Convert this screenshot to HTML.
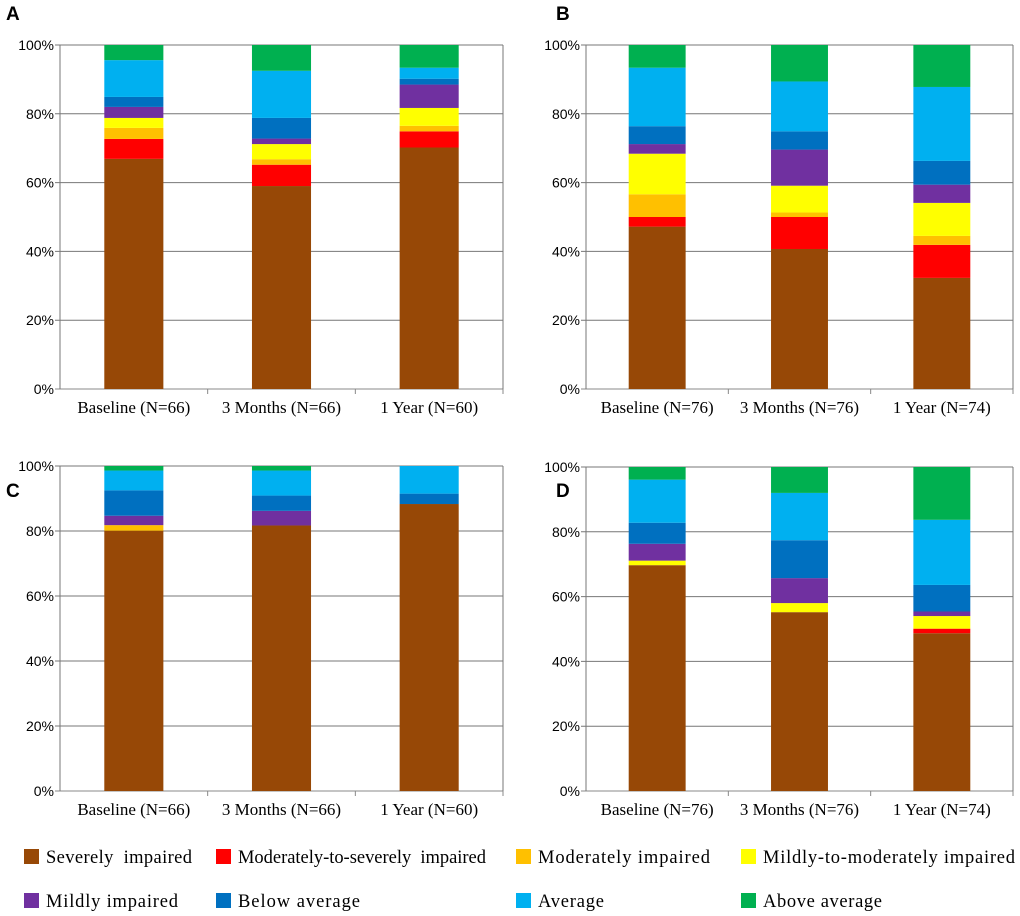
<!DOCTYPE html>
<html><head><meta charset="utf-8"><style>
body{margin:0;background:#fff;width:1020px;height:916px;overflow:hidden}
svg{display:block}
</style></head><body>
<svg id="c" width="1020" height="916" xmlns="http://www.w3.org/2000/svg"></svg>
<script>
const seriesNames=["Severely  impaired","Moderately-to-severely  impaired","Moderately impaired","Mildly-to-moderately impaired","Mildly impaired","Below average","Average","Above average"];
const colors=["#974806","#ff0000","#ffc000","#ffff00","#7030a0","#0070c0","#00b0f0","#00b050"];
const catsAC=["Baseline (N=66)","3 Months (N=66)","1 Year (N=60)"];
const catsBD=["Baseline (N=76)","3 Months (N=76)","1 Year (N=74)"];
const yTicks=["0%","20%","40%","60%","80%","100%"];
// values (%) per category, in series order
const dataA=[[66.9,5.8,3.2,2.9,3.2,2.9,10.7,4.4],[59.0,6.2,1.6,4.4,1.6,6.0,13.7,7.5],[70.2,4.7,1.6,5.2,6.8,1.7,3.2,6.6]];
const dataB=[[47.2,2.8,6.6,11.8,2.8,5.2,17.0,6.6],[40.7,9.3,1.3,7.8,10.5,5.3,14.5,10.6],[32.3,9.6,2.6,9.6,5.3,6.9,21.5,12.2]];
const dataC=[[80.1,0,1.7,0,2.9,7.8,6.1,1.4],[81.7,0,0,0,4.5,4.7,7.7,1.4],[88.3,0,0,0,0,3.2,8.5,0]];
const dataD=[[69.7,0,0,1.4,5.2,6.5,13.3,3.9],[55.2,0,0,2.8,7.7,11.7,14.6,8.0],[48.7,1.4,0,3.9,1.4,8.2,20.1,16.3]];
const panels=[
 {id:"A",data:dataA,cats:catsAC,x0:60,x1:503,top:45,bot:389,lx:6,ly:20},
 {id:"B",data:dataB,cats:catsBD,x0:586,x1:1013,top:45,bot:389,lx:556,ly:20},
 {id:"C",data:dataC,cats:catsAC,x0:60,x1:503,top:466,bot:791,lx:6,ly:497},
 {id:"D",data:dataD,cats:catsBD,x0:586,x1:1013,top:467,bot:791,lx:556,ly:497}];
const svg=document.getElementById('c');
const NS="http://www.w3.org/2000/svg";
function mk(t,a,p){const e=document.createElementNS(NS,t);for(const k in a)e.setAttribute(k,a[k]);(p||svg).appendChild(e);return e;}
panels.forEach(p=>{
 const g=mk('g',{});
 
 
 const y=v=>p.bot-(p.bot-p.top)*v/100;
 const bw=(p.x1-p.x0)/p.cats.length;
 const lab=mk('text',{x:p.lx,y:p.ly,'font-family':'Liberation Sans, sans-serif','font-size':19,'font-weight':'bold',fill:'#000'},g);
 lab.textContent=p.id;
 
 
 yTicks.forEach((t,i)=>{
  const v=i*20, yy=y(v);
  const gl=mk('line',{x1:p.x0-5,x2:p.x1,y1:yy,y2:yy,stroke:i==0?'#888':'#777','stroke-width':1},g);
  
  
  const tx=mk('text',{x:p.x0-6,y:yy+5,'text-anchor':'end','font-family':'Liberation Sans, sans-serif','font-size':14,fill:'#000'},g);
  tx.textContent=t;
  
  
 });
 mk('line',{x1:p.x0,x2:p.x0,y1:p.top,y2:p.bot,stroke:'#777'},g);
 mk('line',{x1:p.x1,x2:p.x1,y1:p.top,y2:p.bot,stroke:'#777'},g);
 p.cats.forEach((c,ci)=>{
  const cx=p.x0+bw*(ci+0.5), w=bw*0.4;
  let cum=0;
  p.data[ci].forEach((v,si)=>{
   if(v<=0)return;
   const r=mk('rect',{x:cx-w/2,y:y(cum+v),width:w,height:y(cum)-y(cum+v),fill:colors[si]},g);
   
   
   cum+=v;
  });
  mk('line',{x1:p.x0+bw*(ci+1),x2:p.x0+bw*(ci+1),y1:p.bot,y2:p.bot+5,stroke:'#888'},g);
  const ct=mk('text',{x:cx,y:p.bot+24,'text-anchor':'middle','font-family':'Liberation Serif, serif','font-size':17,fill:'#000'},g);
  ct.textContent=c;
  
  
 });
});
const legX=[24,216,516,741], legY=[849,893];
const legW=[146,248,172,252,132,122,66,119];
const lg=mk('g',{});


seriesNames.forEach((n,i)=>{
 const x=legX[i%4], yy=legY[Math.floor(i/4)];
 const e=mk('g',{},lg);
 
 
 mk('rect',{x:x,y:yy,width:15,height:15,fill:colors[i]},e);
 const t=mk('text',{x:x+22,y:yy+14,'font-family':'Liberation Serif, serif','font-size':18.5,fill:'#000',textLength:legW[i],lengthAdjust:'spacing'},e);
 t.setAttribute('style','white-space:pre');
 t.textContent=n;
});
</script>
</body></html>
